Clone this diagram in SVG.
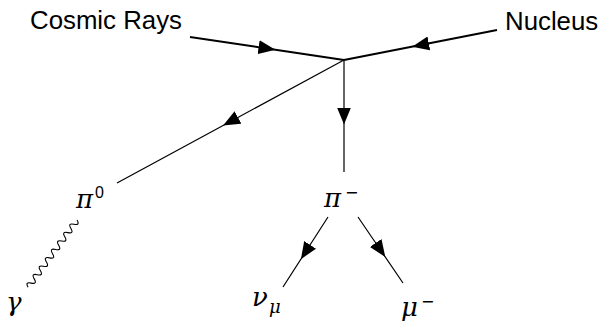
<svg xmlns="http://www.w3.org/2000/svg" width="603" height="324" viewBox="0 0 603 324">
<style>
  .lbl { font-family: "Liberation Sans", Arial, sans-serif; font-size: 25.8px; fill: #000; }
  .math { font-family: "DejaVu Serif", "Liberation Serif", serif; font-style: italic; font-size: 26px; fill: #000; }
  .sub { font-size: 18px; }
  .sup { font-family: "Liberation Sans", Arial, sans-serif; font-style: normal; font-size: 16px; }
  .minus { font-family: "DejaVu Sans", sans-serif; font-style: normal; font-size: 16px; }
  .fermion { fill: none; stroke: #000; stroke-width: 1.2; marker-mid: url(#arr); }
  .thick { stroke-width: 2; }
  .photon { fill: none; stroke: #000; stroke-width: 1.1; }
</style>
<defs>
  <marker id="arr" markerUnits="userSpaceOnUse" markerWidth="17" markerHeight="15" viewBox="0 0 17 15" refX="8.5" refY="7.5" orient="auto">
    <path d="M0,0.5 L17,7.5 L0,14.5 z" fill="#000"/>
  </marker>
</defs>
<g id="connectors">
  <path id="cosmic-line" class="fermion thick" d="M190,37 L267,48.5 L344,60"/>
  <path id="nucleus-line" class="fermion thick" d="M497,30 L420.5,45 L344,60"/>
  <path id="pi-minus-line" class="fermion" d="M344,60 L344,116 L344,172"/>
  <path id="pi-zero-line" class="fermion" d="M344,60 L230.5,121.5 L117,183"/>
  <path id="nu-line" class="fermion" d="M328,217 L305.5,252 L283,287"/>
  <path id="mu-line" class="fermion" d="M358,217 L380.5,250 L403,283"/>
  <path id="photon-line" class="photon" transform="translate(77,220) rotate(126)" d="M0,0 q2.6,-6 5.2,0 t5.2,0 t5.2,0 t5.2,0 t5.2,0 t5.2,0 t5.2,0 t5.2,0 t5.2,0 t5.2,0 t5.2,0 t5.2,0 t5.2,0 t5.2,0 t5.2,0 t5.2,0"/>
</g>
<g id="node-cosmic"><text class="lbl" x="30" y="29">Cosmic Rays</text></g>
<g id="node-nucleus"><text class="lbl" x="505" y="30">Nucleus</text></g>
<g id="node-pi0"><text class="math" x="76" y="208">π<tspan class="sup" x="95" y="198">0</tspan></text></g>
<g id="node-piminus"><text class="math" x="324" y="207">π<tspan class="minus" x="345" y="197.5">−</tspan></text></g>
<g id="node-gamma"><text class="math" x="6" y="311">γ</text></g>
<g id="node-numu"><text class="math" x="252" y="306">ν<tspan class="sub" x="269" y="313">μ</tspan></text></g>
<g id="node-muminus"><text class="math" x="401" y="316">μ<tspan class="minus" x="421" y="306.5">−</tspan></text></g>
</svg>
